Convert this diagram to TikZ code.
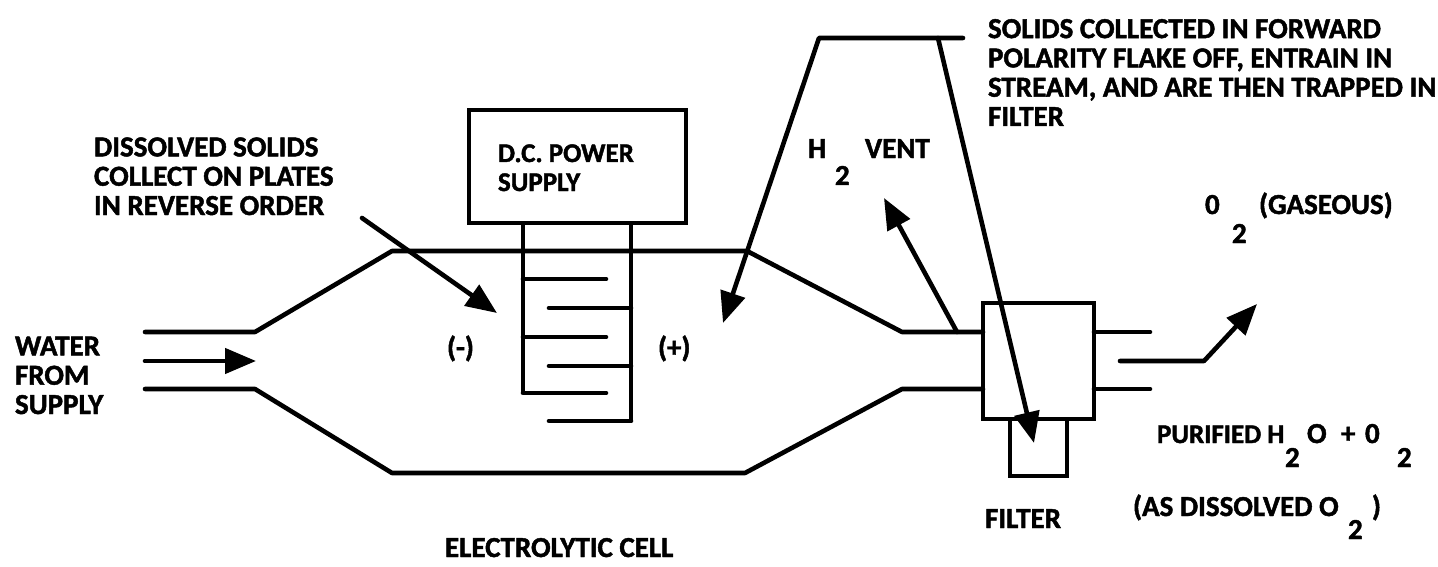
\documentclass[tikz,border=0pt]{standalone}
\usepackage{fontspec}
\setmainfont{Carlito}[BoldFont=Carlito Bold,BoldFeatures={FakeBold=1.6}]
\usetikzlibrary{arrows.meta}
\tikzset{
  wall/.style={line width=4.6pt,line join=round,line cap=round,black},
  thin wall/.style={line width=4pt,line join=miter,black},
  arrowline/.style={line width=4.6pt,line join=round,line cap=round,-{Triangle[length=31pt,width=25pt]}},
  lbl/.style={inner sep=0pt,outer sep=0pt,anchor=base west,align=left,font=\bfseries\fontsize{29}{29.3}\selectfont},
  tight/.style={font=\bfseries\fontsize{27}{29}\selectfont}
}
\begin{document}
\begin{tikzpicture}[x=1pt,y=-1pt]
\useasboundingbox (0,0) rectangle (1438,567);
% cell walls
\coordinate (t0) at (145,332); \coordinate (t1) at (255,332); \coordinate (t2) at (392,251);
\coordinate (t3) at (747,251); \coordinate (t4) at (902,332); \coordinate (t5) at (983,332);
\coordinate (b0) at (145,389); \coordinate (b1) at (255,389); \coordinate (b2) at (392,473);
\coordinate (b3) at (745,473); \coordinate (b4) at (902,389); \coordinate (b5) at (983,389);
\draw[wall] (t0)--(t1)--(t2)--(t3)--(t4)--(t5);
\draw[wall] (b0)--(b1)--(b2)--(b3)--(b4)--(b5);
% power supply
\coordinate (psnw) at (469,110); \coordinate (psse) at (686,223);
\draw[thin wall] (psnw) rectangle (psse);
\coordinate (lr0) at (523,223); \coordinate (lr1) at (523,393);
\coordinate (rr0) at (631,223); \coordinate (rr1) at (631,421);
\draw[thin wall] (lr0)--(lr1); \draw[thin wall] (rr0)--(rr1);
\foreach \y in {279,337,393}{\draw[wall] (523,\y)--(606,\y);}
\foreach \y in {308,366,421}{\draw[wall] (549,\y)--(631,\y);}
% filter
\coordinate (fnw) at (983,303); \coordinate (fse) at (1094,419);
\coordinate (gnw) at (1010,419); \coordinate (gse) at (1067,476);
\draw[thin wall] (gnw) rectangle (gse);
\draw[thin wall] (fnw) rectangle (fse);
% outlet
\coordinate (o1a) at (1094,332); \coordinate (o1b) at (1150,332);
\coordinate (o2a) at (1094,389); \coordinate (o2b) at (1150,389);
\draw[wall] (o1a)--(o1b); \draw[wall] (o2a)--(o2b);
% arrows
\coordinate (w0) at (145,361); \coordinate (w1) at (256,361);
\draw[arrowline] (w0)--(w1);
\coordinate (d0) at (362,218); \coordinate (d1) at (497,313);
\draw[arrowline] (d0)--(d1);
\coordinate (v0) at (957,332); \coordinate (v1) at (884,198);
\draw[arrowline] (v0)--(v1);
\coordinate (o0) at (1120,361); \coordinate (o3) at (1204,361); \coordinate (o4) at (1257,304);
\draw[arrowline] (o0)--(o3)--(o4);
\coordinate (s0) at (963,38); \coordinate (s1) at (819,38); \coordinate (s2) at (723,323);
\coordinate (s3) at (938,38); \coordinate (s4) at (1034,443);
\draw[arrowline] (s0)--(s1)--(s2);
\draw[arrowline] (s3)--(s4);
% labels
\node[lbl] (solids) at (988,126) {SOLIDS COLLECTED IN FORWARD\\POLARITY FLAKE OFF, ENTRAIN IN\\STREAM, AND ARE THEN TRAPPED IN\\FILTER};
\node[lbl] (diss) at (94,215) {DISSOLVED SOLIDS\\COLLECT ON PLATES\\IN REVERSE ORDER};
\node[lbl] (water) at (15,414) {WATER\\FROM\\SUPPLY};
\node[lbl,tight] (dc) at (498,191) {D.C. POWER\\SUPPLY};
\node[lbl] (h) at (808,158) {H};
\node[lbl] (h2) at (835,185) {2};
\node[lbl] (vent) at (865,158) {VENT};
\node[lbl] (minus) at (447,357) {(-)};
\node[lbl] (plus) at (658,357) {(+)};
\node[lbl] (o) at (1205,214) {0};
\node[lbl] (o2) at (1232,243) {2};
\node[lbl] (gas) at (1259,214) {(GASEOUS)};
\node[lbl,tight] (pur) at (1157,443) {PURIFIED H};
\node[lbl] (pur2) at (1285,467) {2};
\node[lbl] (purO) at (1307,443) {O};
\node[lbl] (purP) at (1341,443) {+};
\node[lbl] (purO2) at (1365,443) {0};
\node[lbl] (purOs) at (1397,467) {2};
\node[lbl] (as) at (1133,516) {(AS DISSOLVED O};
\node[lbl] (as2) at (1348,539) {2};
\node[lbl] (asp) at (1372,516) {)};
\node[lbl] (filt) at (985,528) {FILTER};
\node[lbl] (cell) at (445,557) {ELECTROLYTIC CELL};
\end{tikzpicture}
\end{document}
